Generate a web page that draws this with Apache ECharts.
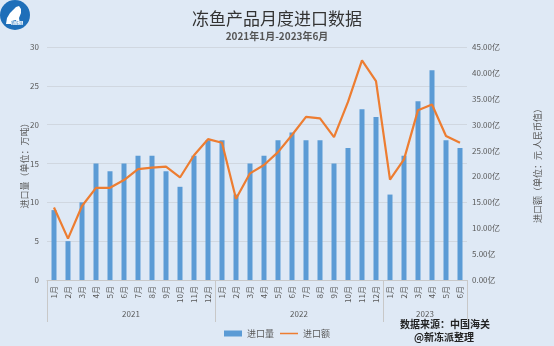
<!DOCTYPE html>
<html><head><meta charset="utf-8">
<script src="https://cdn.jsdelivr.net/npm/echarts@6/dist/echarts.min.js"></script>
<style>html,body{margin:0;padding:0;background:#dfe9f5;}#c{width:554px;height:346px;}</style>
</head><body><div id="c"></div>
<script>
const months = ['1月','2月','3月','4月','5月','6月','7月','8月','9月','10月','11月','12月',
  '1月','2月','3月','4月','5月','6月','7月','8月','9月','10月','11月','12月',
  '1月','2月','3月','4月','5月','6月'];
const years = ['2021','2022','2023'];
const volume = [9,5,10,15,14,15,16,16,14,12,16,18, 18,11,15,16,18,19,18,18,15,17,22,21, 11,16,23,27,18,17];
const value = [14.0,8.0,14.3,17.8,17.8,19.3,21.4,21.7,21.9,19.8,24.1,27.2, 26.5,15.7,20.6,22.2,24.7,28.0,31.5,31.2,27.6,34.4,42.4,38.4, 19.4,23.3,32.8,33.9,27.8,26.5];
const leftTicks = [0,5,10,15,20,25,30];
const rightTicks = [0,5,10,15,20,25,30,35,40,45];

const font = 'Noto Sans CJK SC';
const lineIcon = 'path://M0,0L0.01,0L0.01,0.01L0,0.01Z M0,2.3L18,2.3L18,3.7L0,3.7Z M0,5.99L0.01,5.99L0.01,6L0,6Z';
const chart = echarts.init(document.getElementById('c'));
chart.setOption({
  backgroundColor: '#dfe9f5',
  textStyle: {fontFamily: font},
  title: [{
    text: '冻鱼产品月度进口数据', left: 'center', top: 5,
    textStyle: {fontSize: 17, fontWeight: 'normal', color: '#333', fontFamily: font},
    subtext: '2021年1月-2023年6月', itemGap: 4,
    subtextStyle: {fontSize: 10, fontWeight: 'bold', color: '#555', fontFamily: font}
  }],
  graphic: [
    {type: 'circle', shape: {cx: 15, cy: 15, r: 15}, style: {fill: '#1f6fb9'}},
    {type: 'polygon', shape: {points: [[6,24],[7,18],[10,13],[13,10],[16,7],[19,6],[21,9],[21,13],[19,18],[20,24],[17,24],[16,20],[12,21],[11,24]]}, style: {fill: '#ffffff'}},
    {type: 'text', left: 11, top: 21, style: {text: '新冻派', fontSize: 4, fill: '#1f6fb9', backgroundColor: '#fff', fontFamily: font}},
    {type: 'text', right: 64, top: 319, style: {text: '数据来源：中国海关', fontSize: 10, fontWeight: 'bold', fill: '#222', fontFamily: font}},
    {type: 'text', right: 80, top: 332, style: {text: '@新冻派整理', fontSize: 10, fontWeight: 'bold', fill: '#222', fontFamily: font}}
  ],
  legend: {
    bottom: 3, left: 'center', itemWidth: 18, itemHeight: 6, itemGap: 6,
    textStyle: {fontSize: 9, color: '#595959'},
    data: [{name: '进口量', icon: 'rect'}, {name: '进口额', icon: lineIcon}]
  },
  grid: {left: 47, right: 87, top: 47, bottom: 66},
  xAxis: [{
    type: 'category', data: months,
    axisLine: {lineStyle: {color: '#c8c8c8'}},
    axisTick: {show: false},
    axisLabel: {rotate: 90, fontSize: 8, color: '#595959', interval: 0, margin: 6}
  }, {
    type: 'value', position: 'bottom', min: 0, max: 30,
    axisLine: {show: false},
    splitLine: {show: false},
    axisTick: {show: true, customValues: [0,12,24,30], length: 42, lineStyle: {color: '#c8c8c8'}},
    axisLabel: {customValues: [6,18,27], margin: 30, fontSize: 8, color: '#595959',
      formatter: v => years[[6,18,27].indexOf(v)]}
  }],
  yAxis: [{
    type: 'value', min: 0, max: 30, interval: 5,
    name: '进口量（单位：万吨）', nameLocation: 'middle', nameRotate: 90, nameGap: 18,
    nameMoveOverlap: false,
    nameTextStyle: {fontSize: 9, color: '#595959'},
    axisLine: {show: false}, axisTick: {show: false},
    axisLabel: {fontSize: 8, color: '#595959', margin: 8, customValues: leftTicks},
    splitLine: {lineStyle: {color: '#d0d7e0'}}
  }, {
    type: 'value', min: 0, max: 45, interval: 5, position: 'right',
    name: '进口额（单位：元 人民币值）', nameLocation: 'middle', nameRotate: 90, nameGap: 66,
    nameMoveOverlap: false,
    nameTextStyle: {fontSize: 9, color: '#595959'},
    axisLine: {show: false}, axisTick: {show: false},
    axisLabel: {fontSize: 8, color: '#595959', margin: 5, customValues: rightTicks,
      formatter: v => v.toFixed(2) + '亿'},
    splitLine: {show: false}
  }],
  series: [{
    name: '进口量', type: 'bar', data: volume, barWidth: 5,
    itemStyle: {color: '#5b9bd5'}, xAxisIndex: 0, yAxisIndex: 0
  }, {
    name: '进口额', type: 'line', data: value, yAxisIndex: 1, xAxisIndex: 0,
    symbol: 'none', lineStyle: {color: '#ed7d31', width: 2.2}, itemStyle: {color: '#ed7d31'}
  }]
});
</script></body></html>
